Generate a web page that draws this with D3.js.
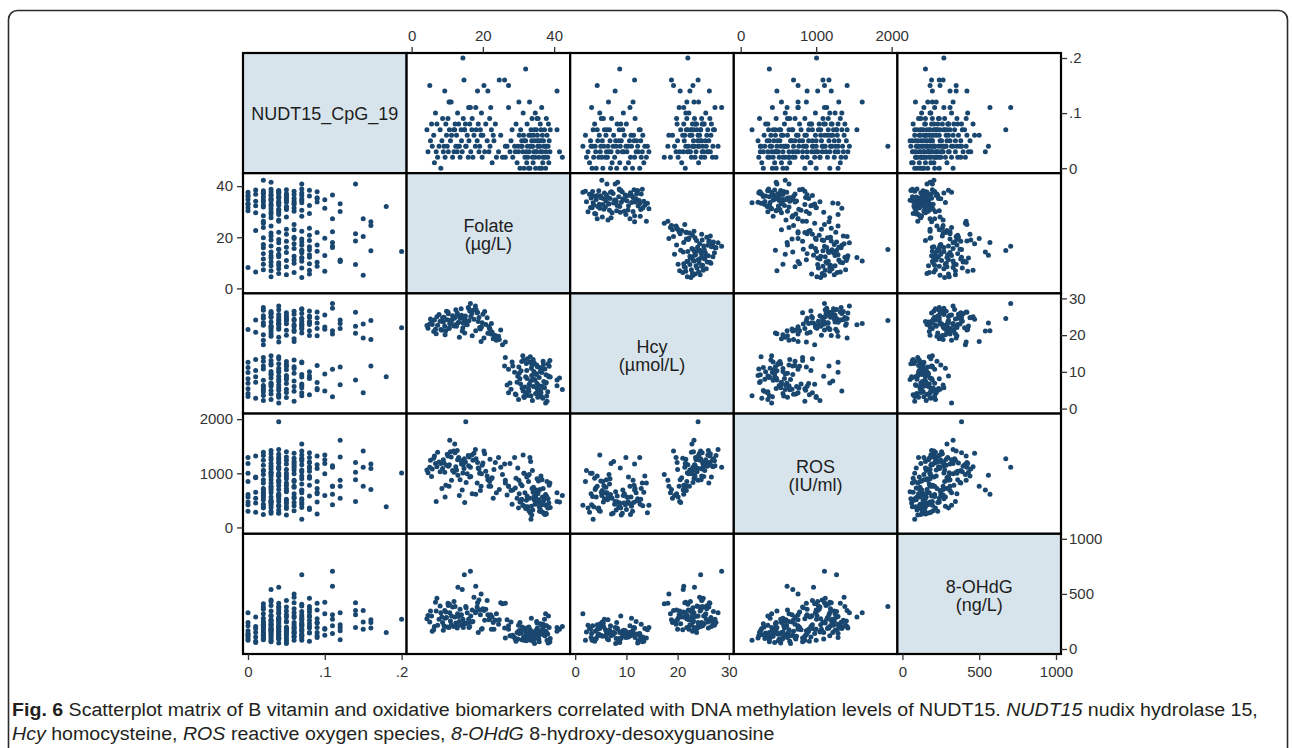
<!DOCTYPE html>
<html lang="en">
<head>
<meta charset="UTF-8">
<title>Scatterplot matrix - NUDT15</title>
<script src="https://d3js.org/d3.v7.min.js"></script>
<style>
  body { margin: 0; background: #fff; }
  svg { display: block; }
  .tick text { font-family: "Liberation Sans", Arial, sans-serif; font-size: 15px; fill: #333; }
  .tick line { stroke: #333; stroke-width: 1.3px; }
  .diag-label { font-family: "Liberation Sans", Arial, sans-serif; font-size: 18px; fill: #1d1d1d; text-anchor: middle; }
  .caption { font-family: "Liberation Sans", Arial, sans-serif; fill: #231f20; }
</style>
</head>
<body>
<svg id="chart" width="1292" height="748"></svg>
<script>
const labels = [["NUDT15_CpG_19"], ["Folate", "(µg/L)"], ["Hcy", "(µmol/L)"], ["ROS", "(IU/ml)"], ["8-OHdG", "(ng/L)"]];
const domains = [[0, 0.2], [0, 43.1], [0, 30], [-25, 2010], [0, 1000]];
const ticks = [[0, 0.1, 0.2], [0, 20, 40], [0, 10, 20, 30], [0, 1000, 2000], [0, 500, 1000]];
const tickText = [["0", ".1", ".2"], ["0", "20", "40"], ["0", "10", "20", "30"], ["0", "1000", "2000"], ["0", "500", "1000"]];

// one value per subject, same order in every array
const nudt = [
  0,0,0,0,0,0,0,0,.01,.01, .01,.01,.01,.02,.02,.02,.02,.02,.02,.02,
  .02,.02,.02,.02,.03,.03,.03,.03,.03,.03, .03,.03,.03,.03,.03,.03,.03,.03,.04,.04,
  .04,.04,.04,.04,.04,.04,.04,.04,.04,.04, .04,.04,.04,.04,.05,.05,.05,.05,.05,.05,
  .05,.05,.05,.05,.05,.06,.06,.06,.06,.06, .06,.06,.06,.07,.07,.07,.07,.07,.07,.07,
  .07,.07,.08,.08,.08,.09,.09,.09,.10,.10, .11,.11,.12,.12,.08,.09,.14,.15,.16,.18,
  .11,.07,.11,.04,.06,.04,.12,.07,.20,.16, .15,.15,.14,.14,.12,0,.01,.01,.02,.02,
  .02,.02,.02,.02,.02,.02,.02,.03,.03,.03, .03,.03,.03,.03,.03,.03,.03,.03,.03,.04,
  .04,.04,.04,.04,.04,.04,.04,.04,.04,.04, .05,.05,.05,.05,.05,.05,.05,.05,.06,.06,
  .06,.06,.06,.06,.06,.06,.06,.07,.07,.07, .07,.07,.07,.07,.07,.07,.07,.08,.08,.08,
  .08,.08,.08,.08,.08,.08,.08,.09,.09,.09, .09,.09,.10,.10,.10,.11,.11,.12,.14,.16
];
const folate = [
  36.5,34.8,33.2,37.6,31.5,35.9,32.8,30.4,34.1,29.6, 36.8,32.3,38.5,38.2,36.9,35.7,33.9,37.4,31.8,26.3,
  34.6,42.3,32.6,28.4,41.5,38.8,36.2,34.3,33.0,31.2, 29.1,37.7,35.1,27.6,32.2,30.0,36.6,34.9,35.4,33.6,
  37.1,31.0,28.9,38.3,36.0,34.0,32.5,30.7,26.8,37.6, 35.6,33.3,37.9,29.8,36.4,34.5,32.0,38.6,30.9,35.2,
  33.7,27.9,37.0,31.6,35.8,36.7,34.2,32.9,30.2,38.0, 35.3,33.4,31.4,37.3,35.0,33.5,30.6,38.9,36.3,34.4,
  40.8,28.2,32.4,36.1,29.3,35.2,33.8,37.8,31.3,34.7, 27.2,36.5,33.1,30.1,38.4,35.5,40.8,27.2,26.1,32.0,
  16.5,14.8,18.0,13.0,19.5,15.2,10.7,12.1,14.4,14.7, 20.3,5.1,21.4,18.5,10.5,8.2,22.6,6.4,11.5,17.2,
  23.8,7.3,13.6,19.8,9.4,25.5,15.9,4.6,12.8,18.9, 21.7,8.9,14.2,10.3,24.4,16.6,6.9,20.5,11.9,9.1,
  15.3,22.0,5.8,17.9,13.4,26.3,10.0,19.1,7.7,12.4, 16.1,21.2,8.5,14.0,23.1,10.9,18.4,5.3,12.6,17.5,
  9.8,22.9,15.6,6.2,20.0,11.2,25.0,13.9,8.0,19.3, 16.9,10.6,22.4,4.3,14.9,18.1,11.8,7.1,13.2,20.8,
  16.3,9.6,23.5,12.2,18.7,5.6,15.1,10.2,21.9,14.5, 17.0,8.7,12.9,19.6,6.7,16.0,22.2,11.1,9.3,24.6
];
const hcy = [
  9.8,4.1,12.6,6.9,3.3,11.2,5.4,8.1,13.4,7.2, 2.8,10.4,8.7,4.6,12.9,6.3,2.2,10.8,5.9,13.9,
  7.7,5.2,3.6,11.6,8.3,13.1,4.9,10.1,6.6,14.4, 4.0,9.2,11.9,7.0,12.3,2.5,6.1,9.5,3.1,11.0,
  7.4,5.6,9.9,12.2,3.9,8.0,13.6,10.3,6.4,1.5, 5.0,14.1,3.4,8.8,10.6,7.9,4.4,11.5,12.8,6.8,
  9.0,5.3,12.0,3.0,8.5,10.9,6.0,4.7,9.6,2.0, 11.4,7.5,13.2,5.7,9.3,3.5,6.7,8.6,4.3,12.5,
  6.2,12.7,8.2,10.0,3.8,5.5,11.7,7.1,4.8,9.4, 10.7,3.2,6.5,11.3,8.9,5.1,7.8,4.3,11.6,8.7,
  28.6,24.5,21.2,23.3,18.3,24.0,23.2,22.8,22.0,24.0, 19.2,23.0,20.5,26.2,21.8,21.5,20.8,24.1,25.3,26.8,
  18.6,22.7,24.6,23.4,20.1,17.4,27.5,21.9,26.0,24.8, 22.3,23.6,21.1,25.8,19.7,25.1,20.4,26.4,22.5,24.9,
  23.0,21.6,22.9,27.9,19.4,18.1,24.2,22.1,25.6,26.9, 23.9,24.7,21.3,25.4,20.0,23.1,26.1,24.4,22.4,24.3,
  26.5,19.0,22.8,21.0,25.7,24.0,21.4,27.2,23.8,21.7, 25.9,22.0,23.2,22.6,20.6,27.0,24.5,25.0,23.5,22.9,
  26.6,21.2,19.9,24.8,23.7,23.4,25.2,26.3,21.8,23.3, 19.8,24.7,25.5,22.2,21.6,27.3,20.3,24.1,22.4,18.8
];
const ros = [
  420,560,1290,610,1000,300,850,470,650,540, 280,930,450,360,720,510,1050,240,640,820,
  430,590,380,690,470,820,300,560,980,410, 730,260,640,1180,500,360,880,450,620,390,
  260,770,1290,530,700,320,950,480,600,410, 860,270,570,1100,440,660,350,780,520,900,
  230,680,490,1000,380,560,740,310,620,850, 460,1220,400,530,690,150,800,370,950,510,
  640,430,580,330,910,470,720,250,1340,590, 760,420,540,870,360,650,480,760,1170,380,
  1110,1270,615,965,760,1950,1610,1540,1005,1090, 1410,1110,880,1200,760,1180,920,1320,1050,1240,
  640,1390,880,1150,560,980,1330,1010,1420,1080, 760,1250,690,1130,1290,940,480,1360,1020,1190,
  830,1260,1080,1440,590,870,1350,1000,1210,1120, 1300,950,720,1170,1070,1400,820,1240,1060,1370,
  1150,540,990,1280,1190,870,1110,1230,1030,680, 1340,1160,900,1060,460,1270,1410,1120,1290,1040,
  930,780,1200,1380,1100,940,1210,1320,850,1160, 620,1090,1250,990,1180,1140,760,1300,1020,700
];
const ohdg = [
  165,95,140,210,80,130,115,240,70,150, 185,110,60,135,225,90,155,120,175,100,
  145,205,85,125,180,65,230,110,140,195, 90,160,250,120,75,215,140,170,105,280,
  130,200,105,55,160,95,185,145,265,320, 125,175,210,90,150,50,120,195,85,160,
  100,245,135,180,65,155,115,200,140,80, 190,150,110,270,125,80,175,95,220,135,
  160,115,190,145,70,235,105,150,185,125, 210,140,85,165,300,120,195,180,190,150,
  705,673,570,560,500,385,330,290,270,240, 350,245,310,420,195,330,290,205,380,250,
  320,215,360,185,280,410,240,305,190,445, 265,170,540,395,225,300,345,260,430,210,
  375,285,160,330,250,415,200,355,270,235, 195,440,290,310,180,255,380,345,220,470,
  285,240,330,175,365,300,420,215,390,310, 245,405,180,275,230,340,205,460,295,360,
  205,335,260,385,150,300,230,415,275,195, 355,240,320,180,425,270,310,220,350,265
];
const vars = [nudt, folate, hcy, ros, ohdg];

const gridLeft = 243, gridTop = 53, cw = 163.6, ch = 120.2, n = 5;
const navy = '#1a476f';

const svg = d3.select('#chart');

// outer frame of the figure panel
svg.append('rect')
  .attr('x', 8.5).attr('y', 10.5)
  .attr('width', 1279).attr('height', 790)
  .attr('rx', 9)
  .attr('fill', 'none')
  .attr('stroke', '#2b2b2b')
  .attr('stroke-width', 1.6);

const xs = domains.map((d, i) => d3.scaleLinear().domain(d).range([gridLeft + i * cw + 5, gridLeft + (i + 1) * cw - 5]));
const ys = domains.map((d, i) => d3.scaleLinear().domain(d).range([gridTop + (i + 1) * ch - 5, gridTop + i * ch + 5]));

const cells = [];
for (let i = 0; i < n; i++) for (let j = 0; j < n; j++) cells.push({ row: i, col: j });

const cell = svg.selectAll('.cell')
  .data(cells)
  .enter()
  .append('g')
  .attr('class', 'cell');

cell.append('rect')
  .attr('x', d => gridLeft + d.col * cw)
  .attr('y', d => gridTop + d.row * ch)
  .attr('width', cw)
  .attr('height', ch)
  .attr('fill', d => d.row === d.col ? '#d8e4ec' : '#fff');

// points
cell.filter(d => d.row !== d.col).each(function (c) {
  d3.select(this).selectAll('circle')
    .data(d3.range(nudt.length))
    .enter()
    .append('circle')
    .attr('cx', k => xs[c.col](vars[c.col][k]))
    .attr('cy', k => ys[c.row](vars[c.row][k]))
    .attr('r', 2.5)
    .attr('fill', navy);
});

// diagonal labels
cell.filter(d => d.row === d.col).each(function (c) {
  const lines = labels[c.row];
  const cx = gridLeft + (c.col + 0.5) * cw;
  const cy = gridTop + (c.row + 0.5) * ch;
  const t = d3.select(this).append('text').attr('class', 'diag-label');
  lines.forEach((s, k) => {
    t.append('tspan')
      .attr('x', cx)
      .attr('y', lines.length === 1 ? cy + 7 : cy - 1 + k * 18)
      .text(s);
  });
});

// cell borders on top of the points
cell.append('rect')
  .attr('x', d => gridLeft + d.col * cw)
  .attr('y', d => gridTop + d.row * ch)
  .attr('width', cw)
  .attr('height', ch)
  .attr('fill', 'none')
  .attr('stroke', '#000')
  .attr('stroke-width', 2.2);

function fmt(v) { return (d, k) => tickText[v][k]; }
const dropDomain = g => g.select('.domain').remove();

[1, 3].forEach(v => {
  svg.append('g')
    .attr('transform', `translate(0,${gridTop})`)
    .call(d3.axisTop(xs[v]).tickValues(ticks[v]).tickFormat(fmt(v)).tickSize(6).tickPadding(6))
    .call(dropDomain);
});
[0, 2, 4].forEach(v => {
  svg.append('g')
    .attr('transform', `translate(0,${gridTop + n * ch})`)
    .call(d3.axisBottom(xs[v]).tickValues(ticks[v]).tickFormat(fmt(v)).tickSize(6).tickPadding(6))
    .call(dropDomain);
});
[1, 3].forEach(v => {
  svg.append('g')
    .attr('transform', `translate(${gridLeft},0)`)
    .call(d3.axisLeft(ys[v]).tickValues(ticks[v]).tickFormat(fmt(v)).tickSize(6).tickPadding(4))
    .call(dropDomain);
});
[0, 2, 4].forEach(v => {
  svg.append('g')
    .attr('transform', `translate(${gridLeft + n * cw},0)`)
    .call(d3.axisRight(ys[v]).tickValues(ticks[v]).tickFormat(fmt(v)).tickSize(6).tickPadding(2))
    .call(dropDomain);
});

// caption
const captionLines = [
  [["Fig. 6", "bold"], [" Scatterplot matrix of B vitamin and oxidative biomarkers correlated with DNA methylation levels of NUDT15. ", ""],
   ["NUDT15", "italic"], [" nudix hydrolase 15,", ""]],
  [["Hcy", "italic"], [" homocysteine, ", ""], ["ROS", "italic"], [" reactive oxygen species, ", ""],
   ["8-OHdG", "italic"], [" 8-hydroxy-desoxyguanosine", ""]]
];
const capY = [716, 740];
const capGroups = captionLines.map((parts, li) => {
  const g = svg.append('g').attr('transform', `translate(12,${capY[li]})`);
  const t = g.append('text')
    .attr('class', 'caption')
    .attr('x', 0)
    .attr('y', 0)
    .style('font-size', '19px');
  parts.forEach(p => {
    const s = t.append('tspan').text(p[0]);
    if (p[1] === 'bold') s.style('font-weight', 'bold');
    if (p[1] === 'italic') s.style('font-style', 'italic');
  });
  return { g, t };
});
// fit the first line to the width it has in the original; line 2 uses the same ratio
const w0 = capGroups[0].t.node().getComputedTextLength();
const ratio = 1246 / w0;
capGroups.forEach((c, li) => c.g.attr('transform', `translate(12,${capY[li]}) scale(${ratio},1)`));
</script>
</body>
</html>
